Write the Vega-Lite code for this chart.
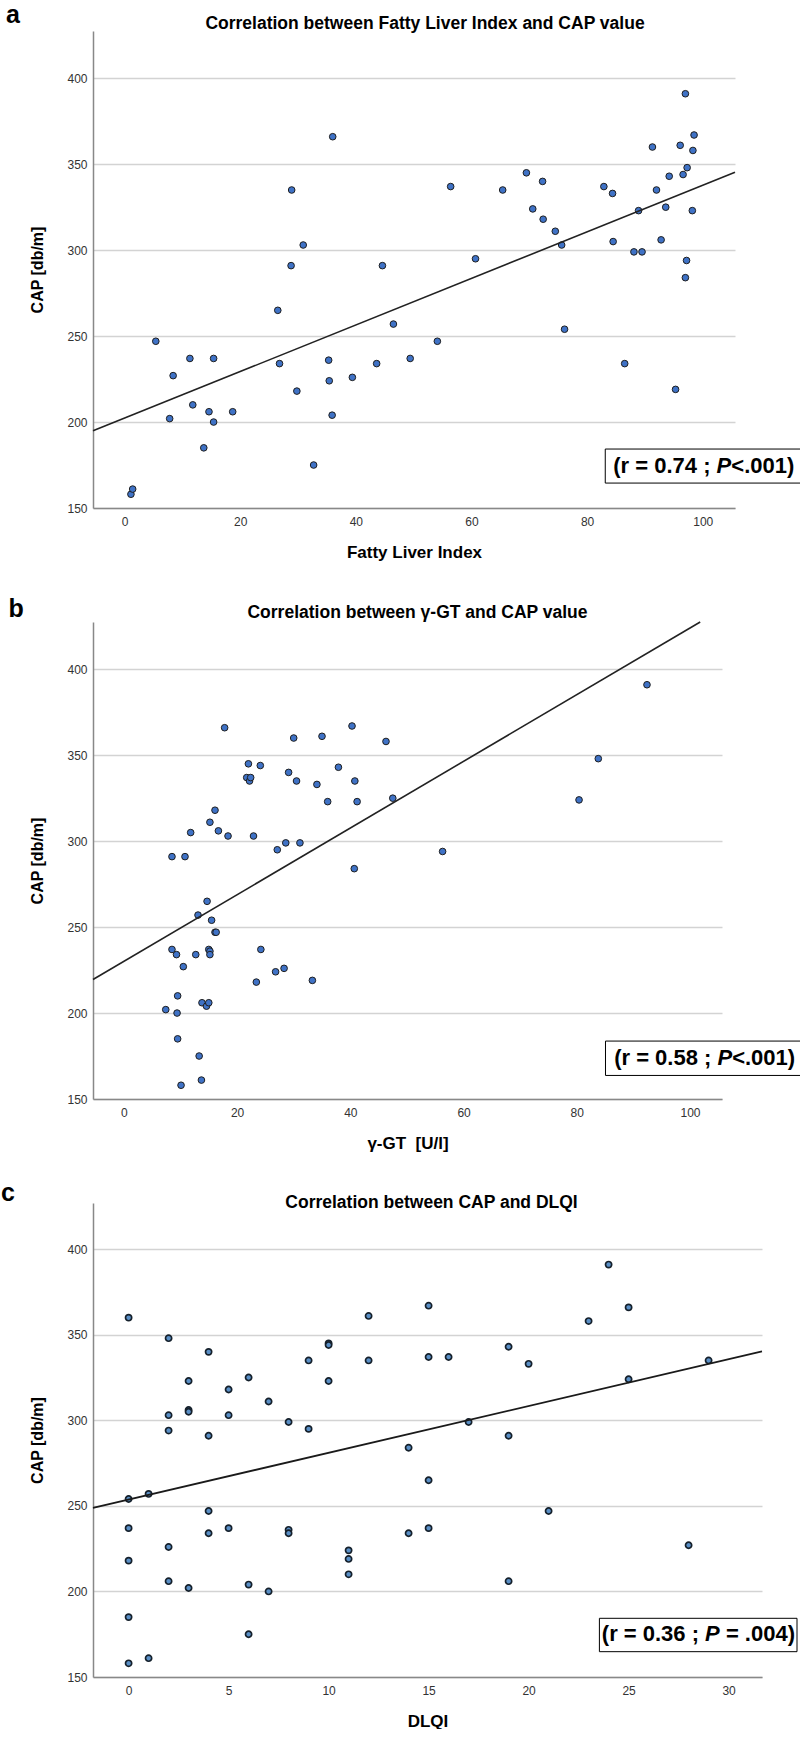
{
  "$schema": "https://vega.github.io/schema/vega-lite/v6.json",
  "padding": {"left": 1, "top": 3, "right": 0, "bottom": 0},
  "config": {
    "font": "Liberation Sans",
    "view": {"stroke": null},
    "axis": {
      "grid": false, "ticks": false, "tickSize": 0,
      "labelFont": "Liberation Sans", "labelFontSize": 12, "labelColor": "#333333",
      "domainColor": "#888888", "domainWidth": 1.5,
      "titleFont": "Liberation Sans", "titleFontSize": 16, "titleFontWeight": "bold", "titleColor": "#000000"
    },
    "axisX": {"labelPadding": 8, "titlePadding": 17, "labelAngle": 0, "titleFontSize": 17},
    "axisY": {"labelPadding": 6, "titlePadding": 21, "grid": true, "gridColor": "#d3d3d3", "gridWidth": 1.5},
    "title": {"font": "Liberation Sans", "fontSize": 17.5, "fontWeight": "bold", "color": "#000000", "frame": "group"}
  },
  "datasets": {
    "fli": [
      {"x": 1.1, "y": 158}, {"x": 1.4, "y": 161}, {"x": 5.4, "y": 247}, {"x": 7.8, "y": 202}, {"x": 8.4, "y": 227},
      {"x": 11.3, "y": 237}, {"x": 11.8, "y": 210}, {"x": 13.7, "y": 185}, {"x": 14.6, "y": 206}, {"x": 15.4, "y": 200},
      {"x": 15.4, "y": 237}, {"x": 18.7, "y": 206}, {"x": 26.5, "y": 265}, {"x": 26.8, "y": 234}, {"x": 28.8, "y": 291},
      {"x": 28.9, "y": 335}, {"x": 29.8, "y": 218}, {"x": 30.9, "y": 303}, {"x": 32.7, "y": 175}, {"x": 35.3, "y": 236},
      {"x": 35.4, "y": 224}, {"x": 35.9, "y": 204}, {"x": 36.0, "y": 366}, {"x": 39.4, "y": 226}, {"x": 43.6, "y": 234},
      {"x": 44.6, "y": 291}, {"x": 46.5, "y": 257}, {"x": 49.4, "y": 237}, {"x": 54.1, "y": 247}, {"x": 56.4, "y": 337},
      {"x": 60.7, "y": 295}, {"x": 65.4, "y": 335}, {"x": 69.5, "y": 345}, {"x": 70.6, "y": 324}, {"x": 72.3, "y": 340},
      {"x": 72.4, "y": 318}, {"x": 74.5, "y": 311}, {"x": 75.6, "y": 303}, {"x": 76.1, "y": 254}, {"x": 82.9, "y": 337},
      {"x": 84.4, "y": 333}, {"x": 84.5, "y": 305}, {"x": 86.5, "y": 234}, {"x": 88.1, "y": 299}, {"x": 88.9, "y": 323},
      {"x": 89.5, "y": 299}, {"x": 91.3, "y": 360}, {"x": 92.0, "y": 335}, {"x": 92.8, "y": 306}, {"x": 93.6, "y": 325},
      {"x": 94.2, "y": 343}, {"x": 95.3, "y": 219}, {"x": 96.1, "y": 361}, {"x": 96.6, "y": 344}, {"x": 97.0, "y": 391},
      {"x": 97.0, "y": 284}, {"x": 97.2, "y": 294}, {"x": 97.3, "y": 348}, {"x": 98.2, "y": 323}, {"x": 98.3, "y": 358},
      {"x": 98.5, "y": 367}
    ],
    "fitFli": [{"x": -5.46, "y": 194.9}, {"x": 105.58, "y": 345.3}],
    "ggt": [
      {"x": 7.4, "y": 202}, {"x": 8.5, "y": 237}, {"x": 8.5, "y": 291}, {"x": 9.3, "y": 234}, {"x": 9.4, "y": 200},
      {"x": 9.5, "y": 210}, {"x": 9.5, "y": 185}, {"x": 10.1, "y": 158}, {"x": 10.5, "y": 227}, {"x": 10.8, "y": 291},
      {"x": 11.8, "y": 305}, {"x": 12.7, "y": 234}, {"x": 13.1, "y": 257}, {"x": 13.3, "y": 175}, {"x": 13.7, "y": 161},
      {"x": 13.8, "y": 206}, {"x": 14.6, "y": 204}, {"x": 14.7, "y": 265}, {"x": 15.0, "y": 206}, {"x": 15.0, "y": 237},
      {"x": 15.2, "y": 236}, {"x": 15.2, "y": 234}, {"x": 15.2, "y": 311}, {"x": 15.5, "y": 254}, {"x": 16.1, "y": 247},
      {"x": 16.3, "y": 247}, {"x": 16.1, "y": 318}, {"x": 16.7, "y": 306}, {"x": 17.8, "y": 366}, {"x": 18.4, "y": 303},
      {"x": 21.7, "y": 337}, {"x": 22.0, "y": 345}, {"x": 22.2, "y": 335}, {"x": 22.4, "y": 337}, {"x": 22.9, "y": 303},
      {"x": 23.4, "y": 218}, {"x": 24.1, "y": 344}, {"x": 24.2, "y": 237}, {"x": 26.8, "y": 224}, {"x": 27.1, "y": 295},
      {"x": 28.3, "y": 226}, {"x": 28.6, "y": 299}, {"x": 29.1, "y": 340}, {"x": 30.0, "y": 360}, {"x": 30.5, "y": 335},
      {"x": 31.1, "y": 299}, {"x": 33.3, "y": 219}, {"x": 34.1, "y": 333}, {"x": 35.0, "y": 361}, {"x": 36.0, "y": 323},
      {"x": 37.9, "y": 343}, {"x": 40.3, "y": 367}, {"x": 40.7, "y": 284}, {"x": 40.8, "y": 335}, {"x": 41.2, "y": 323},
      {"x": 46.3, "y": 358}, {"x": 47.5, "y": 325}, {"x": 56.3, "y": 294}, {"x": 80.4, "y": 324}, {"x": 83.8, "y": 348},
      {"x": 92.4, "y": 391}
    ],
    "fitGgt": [{"x": -5.45, "y": 219.5}, {"x": 101.8, "y": 427.5}],
    "dlqi": [
      {"x": 0, "y": 360}, {"x": 0, "y": 254}, {"x": 0, "y": 237}, {"x": 0, "y": 218}, {"x": 0, "y": 185}, {"x": 0, "y": 158},
      {"x": 1, "y": 257}, {"x": 1, "y": 161},
      {"x": 2, "y": 348}, {"x": 2, "y": 303}, {"x": 2, "y": 294}, {"x": 2, "y": 226}, {"x": 2, "y": 206},
      {"x": 3, "y": 323}, {"x": 3, "y": 306}, {"x": 3, "y": 305}, {"x": 3, "y": 202},
      {"x": 4, "y": 340}, {"x": 4, "y": 291}, {"x": 4, "y": 247}, {"x": 4, "y": 234},
      {"x": 5, "y": 318}, {"x": 5, "y": 303}, {"x": 5, "y": 237},
      {"x": 6, "y": 325}, {"x": 6, "y": 204}, {"x": 6, "y": 175},
      {"x": 7, "y": 311}, {"x": 7, "y": 200},
      {"x": 8, "y": 299}, {"x": 8, "y": 236}, {"x": 8, "y": 234},
      {"x": 9, "y": 335}, {"x": 9, "y": 295},
      {"x": 10, "y": 345}, {"x": 10, "y": 344}, {"x": 10, "y": 323},
      {"x": 11, "y": 224}, {"x": 11, "y": 219}, {"x": 11, "y": 210},
      {"x": 12, "y": 361}, {"x": 12, "y": 335},
      {"x": 14, "y": 284}, {"x": 14, "y": 234},
      {"x": 15, "y": 367}, {"x": 15, "y": 337}, {"x": 15, "y": 265}, {"x": 15, "y": 237},
      {"x": 16, "y": 337}, {"x": 17, "y": 299},
      {"x": 19, "y": 343}, {"x": 19, "y": 291}, {"x": 19, "y": 206},
      {"x": 20, "y": 333}, {"x": 21, "y": 247}, {"x": 23, "y": 358}, {"x": 24, "y": 391},
      {"x": 25, "y": 366}, {"x": 25, "y": 324}, {"x": 28, "y": 227}, {"x": 29, "y": 335}
    ],
    "fitDlqi": [{"x": -1.78, "y": 248.8}, {"x": 31.67, "y": 340.3}]
  },
  "spacing": 37,
  "vconcat": [
    {
      "width": 642, "height": 477,
      "title": {"text": "Correlation between Fatty Liver Index and CAP value", "frame": "group", "dx": 11, "offset": -29},
      "layer": [
        {
          "data": {"name": "fli"},
          "mark": {"type": "point", "shape": "circle", "filled": true, "fill": "#3f72c6", "stroke": "#1e1e1e", "strokeWidth": 1, "size": 44, "opacity": 1},
          "encoding": {
            "x": {"field": "x", "type": "quantitative", "scale": {"domain": [-5.46, 105.58], "nice": false, "zero": false},
                  "axis": {"values": [0, 20, 40, 60, 80, 100], "title": "Fatty Liver Index"}},
            "y": {"field": "y", "type": "quantitative", "scale": {"domain": [150, 427.5], "nice": false, "zero": false},
                  "axis": {"values": [150, 200, 250, 300, 350, 400], "title": "CAP [db/m]"}}
          }
        },
        {
          "data": {"name": "fitFli"},
          "mark": {"type": "line", "color": "#222222", "strokeWidth": 1.6},
          "encoding": {"x": {"field": "x", "type": "quantitative"}, "y": {"field": "y", "type": "quantitative"}}
        },
        {
          "data": {"values": [{"panel": "a", "t1": "(r = 0.74 ; ", "t2": "P", "t3": "<.001)"}]},
          "layer": [
            {
              "mark": {"type": "rect", "fill": "#ffffff", "stroke": "#000000", "strokeWidth": 1},
              "encoding": {
                "x": {"datum": 83.14, "type": "quantitative"}, "x2": {"datum": 117.21},
                "y": {"datum": 184.3, "type": "quantitative"}, "y2": {"datum": 164.5}
              }
            },
            {
              "mark": {"type": "text", "align": "left", "baseline": "middle", "fontSize": 22, "fontWeight": "bold", "color": "#000000"},
              "encoding": {"x": {"datum": 84.53, "type": "quantitative"}, "y": {"datum": 174.4, "type": "quantitative"}, "text": {"field": "t1"}}
            },
            {
              "mark": {"type": "text", "align": "left", "baseline": "middle", "fontSize": 22, "fontWeight": "bold", "fontStyle": "italic", "dx": 103.3, "color": "#000000"},
              "encoding": {"x": {"datum": 84.53, "type": "quantitative"}, "y": {"datum": 174.4, "type": "quantitative"}, "text": {"field": "t2"}}
            },
            {
              "mark": {"type": "text", "align": "left", "baseline": "middle", "fontSize": 22, "fontWeight": "bold", "dx": 118.0, "color": "#000000"},
              "encoding": {"x": {"datum": 84.53, "type": "quantitative"}, "y": {"datum": 174.4, "type": "quantitative"}, "text": {"field": "t3"}}
            },
            {
              "mark": {"type": "text", "align": "left", "baseline": "alphabetic", "fontSize": 25, "fontWeight": "bold", "color": "#000000"},
              "encoding": {"x": {"datum": -20.5, "type": "quantitative"}, "y": {"datum": 431.95, "type": "quantitative"}, "text": {"field": "panel"}}
            }
          ]
        }
      ]
    },
    {
      "spacing": 30,
      "vconcat": [
        {
          "width": 629, "height": 477,
          "title": {"text": "Correlation between γ-GT and CAP value", "frame": "group", "dx": 10, "offset": -24},
          "layer": [
            {
              "data": {"name": "ggt"},
              "mark": {"type": "point", "shape": "circle", "filled": true, "fill": "#3f72c6", "stroke": "#1e1e1e", "strokeWidth": 1, "size": 44, "opacity": 1},
              "encoding": {
                "x": {"field": "x", "type": "quantitative", "scale": {"domain": [-5.45, 105.65], "nice": false, "zero": false},
                      "axis": {"values": [0, 20, 40, 60, 80, 100], "title": "γ-GT \u00a0[U/l]"}},
                "y": {"field": "y", "type": "quantitative", "scale": {"domain": [150, 427.5], "nice": false, "zero": false},
                      "axis": {"values": [150, 200, 250, 300, 350, 400], "title": "CAP [db/m]"}}
              }
            },
            {
              "data": {"name": "fitGgt"},
              "mark": {"type": "line", "color": "#222222", "strokeWidth": 1.6},
              "encoding": {"x": {"field": "x", "type": "quantitative"}, "y": {"field": "y", "type": "quantitative"}}
            },
            {
              "data": {"values": [{"panel": "b", "t1": "(r = 0.58 ; ", "t2": "P", "t3": "<.001)"}]},
              "layer": [
                {
                  "mark": {"type": "rect", "fill": "#ffffff", "stroke": "#000000", "strokeWidth": 1},
                  "encoding": {
                    "x": {"datum": 85.07, "type": "quantitative"}, "x2": {"datum": 120.18},
                    "y": {"datum": 183.7, "type": "quantitative"}, "y2": {"datum": 163.7}
                  }
                },
                {
                  "mark": {"type": "text", "align": "left", "baseline": "middle", "fontSize": 22, "fontWeight": "bold", "color": "#000000"},
                  "encoding": {"x": {"datum": 86.6, "type": "quantitative"}, "y": {"datum": 173.6, "type": "quantitative"}, "text": {"field": "t1"}}
                },
                {
                  "mark": {"type": "text", "align": "left", "baseline": "middle", "fontSize": 22, "fontWeight": "bold", "fontStyle": "italic", "dx": 103.3, "color": "#000000"},
                  "encoding": {"x": {"datum": 86.6, "type": "quantitative"}, "y": {"datum": 173.6, "type": "quantitative"}, "text": {"field": "t2"}}
                },
                {
                  "mark": {"type": "text", "align": "left", "baseline": "middle", "fontSize": 22, "fontWeight": "bold", "dx": 118.0, "color": "#000000"},
                  "encoding": {"x": {"datum": 86.6, "type": "quantitative"}, "y": {"datum": 173.6, "type": "quantitative"}, "text": {"field": "t3"}}
                },
                {
                  "mark": {"type": "text", "align": "left", "baseline": "alphabetic", "fontSize": 25, "fontWeight": "bold", "color": "#000000"},
                  "encoding": {"x": {"datum": -20.37, "type": "quantitative"}, "y": {"datum": 430.4, "type": "quantitative"}, "text": {"field": "panel"}}
                }
              ]
            }
          ]
        },
        {
          "width": 669, "height": 474,
          "title": {"text": "Correlation between CAP and DLQI", "frame": "group", "dx": 4, "offset": -30},
          "layer": [
            {
              "data": {"name": "dlqi"},
              "mark": {"type": "point", "shape": "circle", "filled": true, "fill": "#5a8fc6", "stroke": "#15202b", "strokeWidth": 1.7, "size": 38, "opacity": 1},
              "encoding": {
                "x": {"field": "x", "type": "quantitative", "scale": {"domain": [-1.78, 31.67], "nice": false, "zero": false},
                      "axis": {"values": [0, 5, 10, 15, 20, 25, 30], "title": "DLQI"}},
                "y": {"field": "y", "type": "quantitative", "scale": {"domain": [150, 427], "nice": false, "zero": false},
                      "axis": {"values": [150, 200, 250, 300, 350, 400], "title": "CAP [db/m]"}}
              }
            },
            {
              "data": {"name": "fitDlqi"},
              "mark": {"type": "line", "color": "#1a1a1a", "strokeWidth": 1.8},
              "encoding": {"x": {"field": "x", "type": "quantitative"}, "y": {"field": "y", "type": "quantitative"}}
            },
            {
              "data": {"values": [{"panel": "c", "t1": "(r = 0.36 ; ", "t2": "P", "t3": "= .004)"}]},
              "layer": [
                {
                  "mark": {"type": "rect", "fill": "#ffffff", "stroke": "#000000", "strokeWidth": 1},
                  "encoding": {
                    "x": {"datum": 23.54, "type": "quantitative"}, "x2": {"datum": 33.42},
                    "y": {"datum": 184.3, "type": "quantitative"}, "y2": {"datum": 164.8}
                  }
                },
                {
                  "mark": {"type": "text", "align": "left", "baseline": "middle", "fontSize": 22, "fontWeight": "bold", "color": "#000000"},
                  "encoding": {"x": {"datum": 23.66, "type": "quantitative"}, "y": {"datum": 175.3, "type": "quantitative"}, "text": {"field": "t1"}}
                },
                {
                  "mark": {"type": "text", "align": "left", "baseline": "middle", "fontSize": 22, "fontWeight": "bold", "fontStyle": "italic", "dx": 103.3, "color": "#000000"},
                  "encoding": {"x": {"datum": 23.66, "type": "quantitative"}, "y": {"datum": 175.3, "type": "quantitative"}, "text": {"field": "t2"}}
                },
                {
                  "mark": {"type": "text", "align": "left", "baseline": "middle", "fontSize": 22, "fontWeight": "bold", "dx": 124.1, "color": "#000000"},
                  "encoding": {"x": {"datum": 23.66, "type": "quantitative"}, "y": {"datum": 175.3, "type": "quantitative"}, "text": {"field": "t3"}}
                },
                {
                  "mark": {"type": "text", "align": "left", "baseline": "alphabetic", "fontSize": 25, "fontWeight": "bold", "color": "#000000"},
                  "encoding": {"x": {"datum": -6.38, "type": "quantitative"}, "y": {"datum": 428.0, "type": "quantitative"}, "text": {"field": "panel"}}
                }
              ]
            }
          ]
        }
      ]
    }
  ]
}
